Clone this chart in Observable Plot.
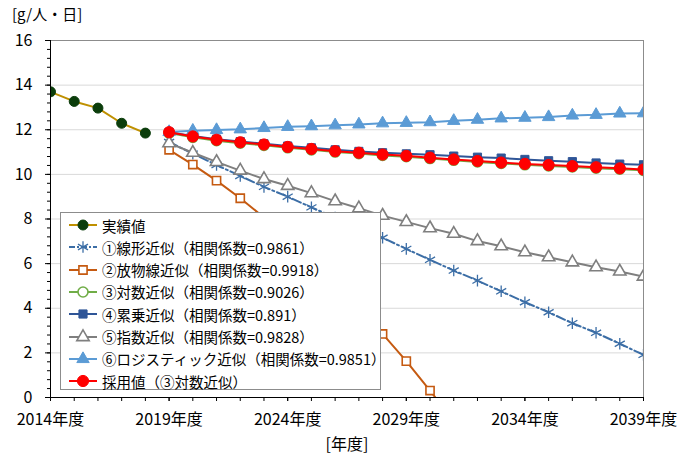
<!DOCTYPE html>
<html><head><meta charset="utf-8">
<script src="https://cdn.jsdelivr.net/npm/d3@7"></script>
<script src="https://cdn.jsdelivr.net/npm/@observablehq/plot@0.6"></script>
<style>
body{margin:0;background:#fff;font-family:"Noto Sans CJK JP",sans-serif;color:#000;}
#wrap{position:relative;width:686px;height:454px;overflow:hidden;}
#ylab{height:28px;font-size:15px;padding-left:12px;line-height:28px;}
#legend{position:absolute;left:60px;top:212px;width:321px;height:178px;border:1px solid #8c8c8c;background:#fff;box-sizing:border-box;}
.row{position:absolute;left:0;height:22px;display:flex;align-items:center;font-size:14.5px;white-space:nowrap;}
.row svg{flex:none;}
</style></head><body>
<div id="wrap"><div id="ylab">[g/人・日]</div><div id="chart"></div><div id="legend"></div></div>
<script>
// ---- data ----
const yearsActual = [2014, 2015, 2016, 2017, 2018];
const actual = [13.70, 13.27, 12.97, 12.29, 11.85];

const yearsFcst = [2019,2020,2021,2022,2023,2024,2025,2026,2027,2028,2029,2030,2031,2032,2033,2034,2035,2036,2037,2038,2039];
const linearFit = [11.45,10.93,10.42,9.93,9.44,9.00,8.52,8.06,7.60,7.16,6.66,6.17,5.69,5.24,4.76,4.27,3.82,3.33,2.90,2.41,1.91];
const yearsParab = [2019,2020,2021,2022,2023,2024,2025,2026,2027,2028,2029,2030,2031];
const parabolicFit = [11.10,10.44,9.72,8.93,8.07,7.16,6.18,5.13,4.02,2.85,1.63,0.31,-1.06];
const logFit = [11.85,11.66,11.51,11.40,11.30,11.19,11.10,11.00,10.93,10.85,10.79,10.71,10.63,10.56,10.49,10.43,10.38,10.33,10.28,10.23,10.18];
const powerFit = [11.89,11.72,11.58,11.47,11.37,11.27,11.19,11.10,11.03,10.97,10.92,10.88,10.82,10.77,10.73,10.67,10.61,10.57,10.51,10.46,10.43];
const expFit = [11.40,10.97,10.56,10.17,9.79,9.49,9.16,8.80,8.48,8.15,7.87,7.59,7.34,7.01,6.78,6.51,6.29,6.06,5.84,5.65,5.42];
const logisticFit = [11.90,11.96,11.99,12.02,12.08,12.13,12.16,12.20,12.24,12.29,12.31,12.34,12.40,12.45,12.51,12.54,12.57,12.64,12.67,12.73,12.74];
const adopted = [11.89,11.70,11.55,11.44,11.34,11.23,11.14,11.04,10.97,10.89,10.83,10.75,10.67,10.60,10.53,10.47,10.42,10.37,10.32,10.27,10.22];

const seriesNames = [
  "実績値",
  "①線形近似（相関係数=0.9861）",
  "②放物線近似（相関係数=0.9918）",
  "③対数近似（相関係数=0.9026）",
  "④累乗近似（相関係数=0.891）",
  "⑤指数近似（相関係数=0.9828）",
  "⑥ロジスティック近似（相関係数=0.9851）",
  "採用値（③対数近似）"
];
const xTickYears = [2014, 2019, 2024, 2029, 2034, 2039];
const yTicks = [0, 2, 4, 6, 8, 10, 12, 14, 16];

// ---- styles ----
const styles = [
  {line:"#BF9000", symbol:"circle", r:5, fill:"#0B3D0B", stroke:"#0B3D0B", sw:1},
  {line:"#3C6EA6", dash:"9,3,2,3", symbol:"asterisk", r:5.5, fill:"none", stroke:"#3C6EA6", sw:1.3},
  {line:"#C55A11", symbol:"square", r:4.6, fill:"#fff", stroke:"#C55A11", sw:1.6},
  {line:"#70AD47", symbol:"circle", r:5, fill:"#fff", stroke:"#70AD47", sw:1.6},
  {line:"#2F5597", symbol:"square", r:4.6, fill:"#2F5597", stroke:"#2F5597", sw:1},
  {line:"#7F7F7F", symbol:"triangle", r:4.6, fill:"#fff", stroke:"#7F7F7F", sw:1.6},
  {line:"#5B9BD5", symbol:"triangle", r:4.6, fill:"#5B9BD5", stroke:"#5B9BD5", sw:1},
  {line:"#FF0000", symbol:"circle", r:5.6, fill:"#FF0000", stroke:"#FF0000", sw:1}
];
const seriesData = [
  [yearsActual, actual],
  [yearsFcst, linearFit],
  [yearsParab, parabolicFit],
  [yearsFcst, logFit],
  [yearsFcst, powerFit],
  [yearsFcst, expFit],
  [yearsFcst, logisticFit],
  [yearsFcst, adopted]
];

const seriesMarks = seriesData.flatMap(([yrs, vals], k) => {
  const s = styles[k];
  const rows = yrs.map((yr, i) => ({year: yr, value: vals[i]}));
  return [
    Plot.line(rows, {x: "year", y: "value", stroke: s.line, strokeWidth: 2, strokeDasharray: s.dash, clip: true}),
    Plot.dot(rows, {x: "year", y: "value", symbol: s.symbol, r: s.r, fill: s.fill, stroke: s.stroke, strokeWidth: s.sw, clip: true})
  ];
});

const minorY = d3.range(0, 41).map(i => +(i * 0.4).toFixed(1));
const minorX = d3.range(2014, 2040);

const chart = Plot.plot({
  width: 686,
  height: 426,
  marginLeft: 50,
  marginRight: 43,
  marginTop: 12,
  marginBottom: 57,
  style: {fontFamily: '"Noto Sans CJK JP", sans-serif', fontSize: "16px", color: "#000", background: "#fff", overflow: "visible"},
  x: {domain: [2014, 2039]},
  y: {domain: [0, 16]},
  marks: [
    Plot.gridY(yTicks.filter(d => d > 0 && d < 16), {stroke: "#d9d9d9", strokeOpacity: 1, strokeWidth: 1}),
    Plot.axisY(minorY, {tickSize: 3, tickFormat: () => "", label: null}),
    Plot.axisY(yTicks, {tickSize: 5, tickPadding: 13, label: null}),
    Plot.axisX(minorX, {tickSize: 4, tickFormat: () => "", label: null}),
    Plot.axisX(xTickYears, {tickSize: 4, tickPadding: 12, tickFormat: d => d + "年度", label: "[年度]", labelAnchor: "center", labelArrow: false, labelOffset: 52}),
    Plot.ruleY([16], {stroke: "#8c8c8c"}),
    Plot.ruleX([2039], {stroke: "#8c8c8c"}),
    ...seriesMarks,
    Plot.ruleY([0], {stroke: "#000"}),
    Plot.ruleX([2014], {stroke: "#000"})
  ]
});
document.getElementById("chart").appendChild(chart);

// ---- legend ----
const symMap = {circle: d3.symbolCircle, square: d3.symbolSquare, triangle: d3.symbolTriangle, asterisk: d3.symbolAsterisk};
const legend = d3.select("#legend");
seriesNames.forEach((name, k) => {
  const s = styles[k];
  const row = legend.append("div").attr("class", "row").style("top", (1 + 22.3 * k) + "px");
  const svg = row.append("svg").attr("width", 41).attr("height", 22);
  svg.append("line").attr("x1", 8).attr("x2", 36).attr("y1", 11).attr("y2", 11)
    .attr("stroke", s.line).attr("stroke-width", 2).attr("stroke-dasharray", s.dash ? "6,2,2,2" : null);
  svg.append("path").attr("transform", "translate(22,11)")
    .attr("d", d3.symbol(symMap[s.symbol], s.r * s.r * Math.PI)())
    .attr("fill", s.fill).attr("stroke", s.stroke).attr("stroke-width", s.sw);
  row.append("span").text(name);
});
</script>
</body></html>
